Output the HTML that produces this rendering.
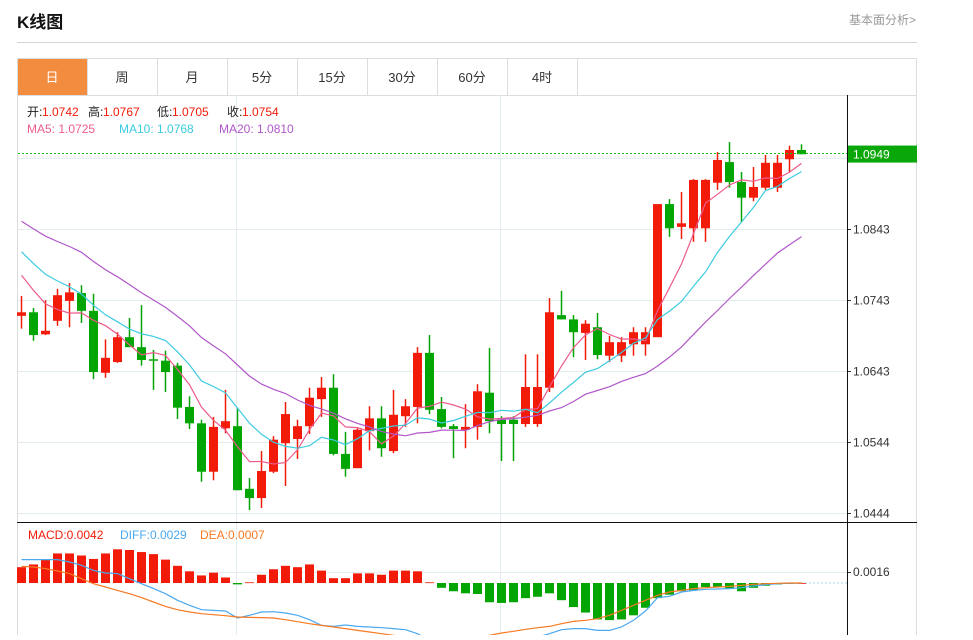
<!DOCTYPE html>
<html><head><meta charset="utf-8"><style>
body{margin:0;background:#fff;width:973px;height:635px;overflow:hidden;font-family:"Liberation Sans","Noto Sans CJK SC",sans-serif;}
svg text{font-family:"Liberation Sans","Noto Sans CJK SC",sans-serif;}
</style></head><body>
<svg id="c" width="973" height="635" xmlns="http://www.w3.org/2000/svg">
<text x="17" y="28" font-size="17" font-weight="bold" fill="#111">K线图</text>
<text x="916" y="24" font-size="12" fill="#999" text-anchor="end">基本面分析&gt;</text>
<line x1="17" y1="42.5" x2="917" y2="42.5" stroke="#d4d4d4"/>
<g id="tabs"></g>
<g id="grid"></g><g id="marks"></g>
</svg>
<script>
const tabLabels=["日","周","月","5分","15分","30分","60分","4时"];
const prefixCloses=[1.0910,1.0905,1.0900,1.0895,1.0890,1.0900,1.0895,1.0890,1.0895,1.0890,1.0860,1.0850,1.0845,1.0835,1.0830,1.0800,1.0795,1.0790,1.0779];
const opens=[1.0721,1.0726,1.0695,1.0714,1.0742,1.0753,1.0728,1.0641,1.0656,1.0691,1.0677,1.0660,1.0658,1.0651,1.0593,1.0570,1.0502,1.0563,1.0566,1.0478,1.0465,1.0502,1.0542,1.0548,1.0566,1.0604,1.0620,1.0527,1.0507,1.0559,1.0577,1.0531,1.0580,1.0593,1.0669,1.0590,1.0566,1.0561,1.0565,1.0613,1.0575,1.0575,1.0569,1.0569,1.0620,1.0722,1.0716,1.0697,1.0705,1.0665,1.0665,1.0681,1.0681,1.0691,1.0878,1.0846,1.0844,1.0844,1.0908,1.0937,1.0909,1.0887,1.0901,1.0901,1.0941,1.0954];
const highs=[1.0749,1.0732,1.0743,1.0759,1.0767,1.0764,1.0752,1.0688,1.0698,1.0718,1.0736,1.0673,1.0672,1.0655,1.0608,1.0575,1.0579,1.0617,1.0592,1.0493,1.0531,1.0552,1.0600,1.0575,1.0620,1.0635,1.0639,1.0558,1.0563,1.0594,1.0594,1.0617,1.0604,1.0677,1.0694,1.0607,1.0569,1.0597,1.0625,1.0676,1.0580,1.0580,1.0667,1.0667,1.0746,1.0756,1.0722,1.0715,1.0725,1.0693,1.0691,1.0705,1.0705,1.0691,1.0885,1.0895,1.0913,1.0913,1.0951,1.0965,1.0923,1.0930,1.0947,1.0947,1.0960,1.0962];
const lows=[1.0703,1.0686,1.0694,1.0707,1.0705,1.0711,1.0632,1.0634,1.0655,1.0677,1.0651,1.0617,1.0614,1.0576,1.0562,1.0488,1.0490,1.0556,1.0476,1.0448,1.0451,1.0500,1.0482,1.0520,1.0555,1.0579,1.0525,1.0495,1.0507,1.0532,1.0523,1.0528,1.0565,1.0570,1.0583,1.0563,1.0521,1.0535,1.0547,1.0556,1.0517,1.0517,1.0565,1.0565,1.0614,1.0716,1.0663,1.0659,1.0660,1.0656,1.0656,1.0665,1.0665,1.0691,1.0832,1.0829,1.0825,1.0825,1.0898,1.0901,1.0853,1.0882,1.0898,1.0895,1.0923,1.0948];
const closes=[1.0726,1.0694,1.0700,1.0750,1.0754,1.0728,1.0642,1.0662,1.0691,1.0677,1.0659,1.0658,1.0642,1.0592,1.0570,1.0502,1.0565,1.0573,1.0476,1.0465,1.0503,1.0547,1.0583,1.0566,1.0606,1.0620,1.0527,1.0506,1.0561,1.0577,1.0535,1.0582,1.0594,1.0669,1.0589,1.0565,1.0562,1.0565,1.0615,1.0573,1.0569,1.0569,1.0621,1.0621,1.0726,1.0716,1.0698,1.0710,1.0666,1.0684,1.0684,1.0698,1.0698,1.0878,1.0844,1.0851,1.0912,1.0912,1.0940,1.0909,1.0887,1.0902,1.0936,1.0936,1.0954,1.0948];
const priceTicks=[1.0843,1.0743,1.0643,1.0544,1.0444];
const lastPrice=1.0949;
const macdHist=[0.0023,0.0027,0.0034,0.0043,0.0043,0.0040,0.0035,0.0043,0.0049,0.0048,0.0045,0.0042,0.0034,0.0025,0.0017,0.0011,0.0015,0.0008,-0.0002,0.0001,0.0012,0.0020,0.0025,0.0023,0.0027,0.0018,0.0007,0.0007,0.0014,0.0014,0.0012,0.0018,0.0018,0.0017,0.0001,-0.0007,-0.0012,-0.0015,-0.0016,-0.0028,-0.0029,-0.0028,-0.0022,-0.0020,-0.0015,-0.0025,-0.0035,-0.0043,-0.0053,-0.0054,-0.0053,-0.0047,-0.0036,-0.0022,-0.0017,-0.0012,-0.0011,-0.0006,-0.0006,-0.0008,-0.0012,-0.0007,-0.0004,-0.0002,-0.0001,0.0000];
const diffVals=[0.00340,0.00340,0.00340,0.00340,0.00306,0.00257,0.00184,0.00146,0.00136,0.00063,-0.00010,-0.00082,-0.00155,-0.00252,-0.00325,-0.00388,-0.00398,-0.00407,-0.00509,-0.00470,-0.00422,-0.00417,-0.00437,-0.00470,-0.00534,-0.00616,-0.00631,-0.00611,-0.00631,-0.00640,-0.00650,-0.00664,-0.00679,-0.00737,-0.00834,-0.00931,-0.01004,-0.01052,-0.01077,-0.01077,-0.01028,-0.00980,-0.00883,-0.00786,-0.00737,-0.00679,-0.00664,-0.00664,-0.00689,-0.00689,-0.00640,-0.00543,-0.00407,-0.00213,-0.00194,-0.00131,-0.00107,-0.00092,-0.00087,-0.00082,-0.00068,-0.00044,-0.00024,-0.00010,-0.00005,0];
const deaVals=[0.00243,0.00233,0.00209,0.00175,0.00136,0.00063,-0.00010,-0.00058,-0.00107,-0.00155,-0.00213,-0.00276,-0.00340,-0.00388,-0.00422,-0.00446,-0.00461,-0.00475,-0.00495,-0.00500,-0.00504,-0.00509,-0.00534,-0.00563,-0.00592,-0.00616,-0.00640,-0.00664,-0.00689,-0.00713,-0.00737,-0.00761,-0.00786,-0.00810,-0.00825,-0.00834,-0.00825,-0.00810,-0.00795,-0.00761,-0.00728,-0.00703,-0.00674,-0.00650,-0.00631,-0.00592,-0.00558,-0.00543,-0.00519,-0.00470,-0.00398,-0.00325,-0.00252,-0.00179,-0.00131,-0.00107,-0.00082,-0.00068,-0.00058,-0.00049,-0.00034,-0.00019,-0.00010,-0.00005,0,0];
const macdTick=0.0016;

const NS="http://www.w3.org/2000/svg";
function mk(parent,tag,attrs,text){const e=document.createElementNS(NS,tag);for(const k in attrs)e.setAttribute(k,attrs[k]);if(text!==undefined)e.textContent=text;parent.appendChild(e);return e;}
const X=i=>21+i*12;
const Y=v=>229+(1.0843-v)*7118;
const MY=v=>583-v*6875;
const RED="#f21a08",GREEN="#02a502";
const svg=document.getElementById('c'),tabs=document.getElementById('tabs'),grid=document.getElementById('grid'),marks=document.getElementById('marks');

mk(tabs,'rect',{x:17.5,y:58.5,width:899,height:37,fill:'#fff',stroke:'#ddd'});
tabLabels.forEach((t,i)=>{
  const x=17+i*70;
  const r=mk(tabs,'rect',{x:x+0.5,y:58.5,width:70,height:37,fill:i===0?'#f28c3f':'#fff',stroke:'#ddd'});
  
  
  const tx=mk(tabs,'text',{x:x+35,y:82,'font-size':13,'text-anchor':'middle',fill:i===0?'#fff':'#333'},t);
  
  
});

mk(grid,'line',{x1:17.5,y1:95,x2:17.5,y2:635,stroke:'#ddd'});
mk(grid,'line',{x1:916.5,y1:95,x2:916.5,y2:635,stroke:'#ddd'});
[236.5,500.5].forEach(x=>{const l=mk(grid,'line',{x1:x,y1:95,x2:x,y2:635,stroke:'#e3ecf1'});});
[lastPrice-0.0006].concat(priceTicks).forEach(v=>{const l=mk(grid,'line',{x1:18,y1:Math.round(Y(v))+0.5,x2:847,y2:Math.round(Y(v))+0.5,stroke:'#e3ecf1'});});
priceTicks.forEach(v=>{
  const y=Math.round(Y(v))+0.5;
  mk(grid,'line',{x1:847,y1:y,x2:851,y2:y,stroke:'#333'});
  const t=mk(grid,'text',{x:853,y:y+4,'font-size':12,fill:'#333'},v.toFixed(4));
  
  
});
mk(grid,'line',{x1:18,y1:MY(macdTick)+0.5,x2:847,y2:MY(macdTick)+0.5,stroke:'#e3ecf1'});
const mt=mk(grid,'text',{x:853,y:MY(macdTick)+4,'font-size':12,fill:'#333'},macdTick.toFixed(4));


mk(grid,'line',{x1:847,y1:MY(macdTick)+0.5,x2:851,y2:MY(macdTick)+0.5,stroke:'#333'});

for(let i=0;i<closes.length;i++){
  const up=closes[i]>=opens[i],col=up?RED:GREEN,x=X(i);
  const w=mk(marks,'line',{x1:x+0.5,y1:Y(highs[i]),x2:x+0.5,y2:Y(lows[i]),stroke:col,'stroke-width':1.5});
  
  
  const t=Y(Math.max(opens[i],closes[i])),b=Y(Math.min(opens[i],closes[i]));
  const r=mk(marks,'rect',{x:x-4,y:t,width:9,height:Math.max(1.5,b-t),fill:col});
  
  
}
const all=prefixCloses.concat(closes);
function ma(n){return closes.map((c,i)=>{const j=i+prefixCloses.length;let s=0;for(let k=j-n+1;k<=j;k++)s+=all[k];return s/n;});}
[[5,'#ec5b8c','ma5-line'],[10,'#3ccbe0','ma10-line'],[20,'#b157c9','ma20-line']].forEach(([n,c,name])=>{
  const p=mk(marks,'polyline',{points:ma(n).map((v,i)=>X(i)+0.5+','+Y(v).toFixed(1)).join(' '),fill:'none',stroke:c,'stroke-width':1.2});
  
  
});
const lp=mk(marks,'line',{x1:18,y1:Y(lastPrice),x2:847,y2:Y(lastPrice),stroke:'#17c217','stroke-dasharray':'2,2'});


const tag=mk(marks,'rect',{x:847,y:Y(lastPrice)-8,width:70,height:17,fill:'#0aa70a'});


const tagt=mk(marks,'text',{x:853,y:Y(lastPrice)+5,'font-size':12,fill:'#fff'},lastPrice.toFixed(4));



const clip=mk(svg,'clipPath',{id:'mc'});mk(clip,'rect',{x:17,y:523,width:830,height:112});
const mg=mk(svg,'g',{'clip-path':'url(#mc)'});
mk(mg,'line',{x1:X(macdHist.length-1),y1:583,x2:847,y2:583,stroke:'#9fd3ea','stroke-dasharray':'2,2'});
macdHist.forEach((v,i)=>{
  const y0=MY(0),y1=MY(v);
  const r=mk(mg,'rect',{x:X(i)-4,y:Math.min(y0,y1),width:9,height:Math.max(0.8,Math.abs(y1-y0)),fill:v>=0?RED:GREEN});
  
  
});
[[diffVals,'#4aa8ef','diff-line'],[deaVals,'#f77a22','dea-line']].forEach(([arr,c,name])=>{
  const p=mk(mg,'polyline',{points:arr.map((v,i)=>X(i)+0.5+','+MY(v).toFixed(1)).join(' '),fill:'none',stroke:c,'stroke-width':1.2});
  
  
});

mk(svg,'line',{x1:847.5,y1:95,x2:847.5,y2:635,stroke:'#111'});
mk(svg,'line',{x1:17,y1:522.5,x2:917,y2:522.5,stroke:'#111'});

const legendItems=[['开:',27,116,'#222'],['1.0742',42,116,RED],['高:',88,116,'#222'],['1.0767',103,116,RED],['低:',157,116,'#222'],['1.0705',172,116,RED],['收:',227,116,'#222'],['1.0754',242,116,RED],
['MA5: 1.0725',27,133,'#ec5b8c'],['MA10: 1.0768',119,133,'#3ccbe0'],['MA20: 1.0810',219,133,'#b157c9'],
['MACD:0.0042',28,539,RED],['DIFF:0.0029',120,539,'#4aa8ef'],['DEA:0.0007',200,539,'#f77a22']];
legendItems.forEach(([t,x,y,c])=>{
  const e=mk(svg,'text',{x:x,y:y,'font-size':12,fill:c},t);
  
  
});
</script>
</body></html>
